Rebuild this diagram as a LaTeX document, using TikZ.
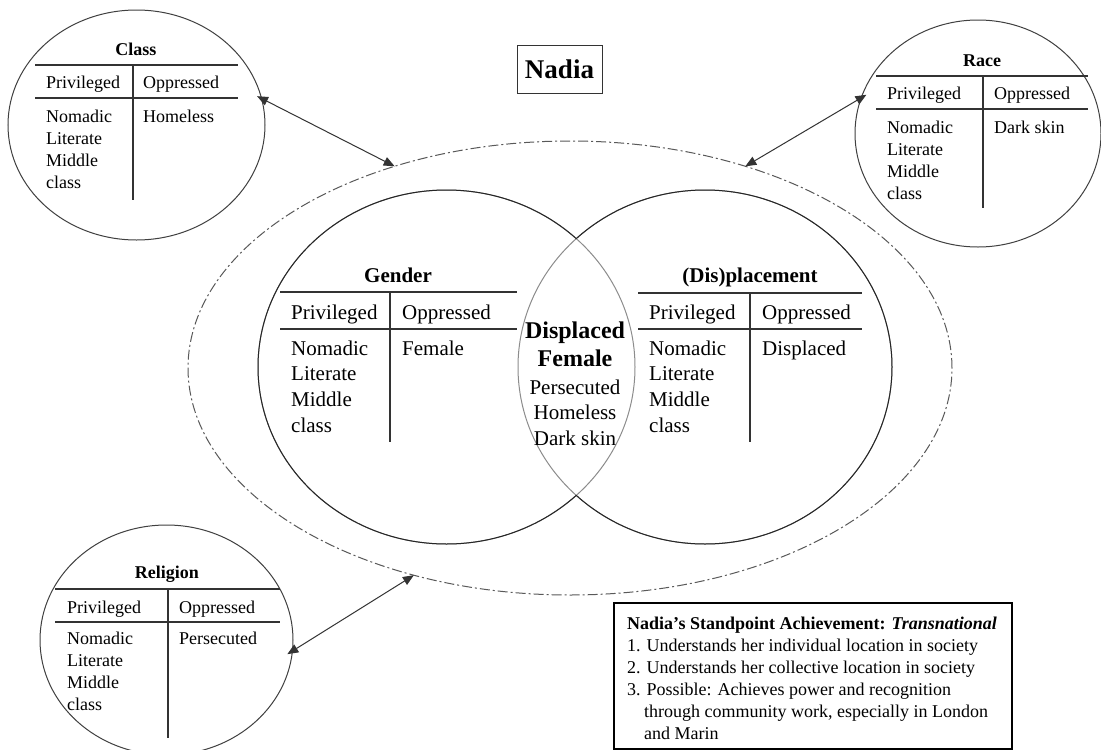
\documentclass[tikz,border=0pt]{standalone}
\usepackage{fontspec}
\setmainfont{Liberation Serif}
\usetikzlibrary{shapes.geometric,arrows.meta}
\tikzset{
  circ/.style={draw=black!75, line width=1pt, ellipse, inner sep=0pt, outer sep=0pt},
  tline/.style={draw=black!80, line width=1.6pt},
  sm/.style={font=\fontsize{18}{21}\selectfont, anchor=base west, inner sep=0pt},
  smt/.style={font=\fontsize{18}{21}\selectfont\bfseries, anchor=base, inner sep=0pt},
  md/.style={font=\fontsize{21}{25}\selectfont, anchor=base west, inner sep=0pt},
  mdt/.style={font=\fontsize{21}{25}\selectfont\bfseries, anchor=base, inner sep=0pt},
  lensb/.style={font=\fontsize{24}{28}\selectfont\bfseries, anchor=base, inner sep=0pt},
  lensr/.style={font=\fontsize{21}{25}\selectfont, anchor=base, inner sep=0pt},
  venn/.style={draw=black!85, line width=1pt},
  lensarc/.style={draw=black!45, line width=1pt},
  arr/.style={draw=black!80, line width=1pt, {Triangle[length=11pt,width=9pt]}-{Triangle[length=11pt,width=9pt]}},
}
\begin{document}
\begin{tikzpicture}[x=1pt,y=-1pt]
\useasboundingbox (0,0) rectangle (1101,750);
\fill[white] (0,0) rectangle (1101,750);

% outer dash-dot ellipse
\node[ellipse, draw=black!65, line width=1pt, dash pattern=on 10pt off 3pt on 2pt off 3pt,
      minimum width=764pt, minimum height=454pt, inner sep=0pt, outer sep=0pt] (outer) at (570,368) {};

% small circles
\node[circ, minimum width=257pt, minimum height=230pt] (classC) at (136.5,125) {};
\node[circ, minimum width=246pt, minimum height=227pt] (raceC) at (978,133.5) {};
\node[circ, minimum width=253pt, minimum height=230pt] (relC) at (166.5,640) {};

% Venn circles: lens arcs lighter
\draw[lensarc] (446.5,367) ellipse [x radius=188.5, y radius=177];
\draw[lensarc] (705,367) ellipse [x radius=187, y radius=177];
\begin{scope}[even odd rule]
  \clip (-10,-10) rectangle (1111,760) (705,367) ellipse [x radius=187, y radius=177];
  \draw[venn] (446.5,367) ellipse [x radius=188.5, y radius=177];
\end{scope}
\begin{scope}[even odd rule]
  \clip (-10,-10) rectangle (1111,760) (446.5,367) ellipse [x radius=188.5, y radius=177];
  \draw[venn] (705,367) ellipse [x radius=187, y radius=177];
\end{scope}

% arrows
\draw[arr, shorten <=-5pt] (classC.12) -- (outer.131);
\draw[arr, shorten <=-6pt] (raceC.163) -- (outer.49);
\draw[arr, shorten <=-6pt] (relC.-5) -- (outer.-127);

% Nadia
\node[draw=black!80, line width=1pt, minimum width=85pt, minimum height=48pt, inner sep=0pt,
      font=\fontsize{27}{30}\selectfont\bfseries] (nadia) at (559.5,69) {Nadia};

% Class table
\node[smt] (clT) at (136,55) {Class};
\draw[tline] (35,65) -- (238,65);
\draw[tline] (35,98) -- (238,98);
\draw[tline] (133,65) -- (133,200);
\node[sm] (clH1) at (46,88) {Privileged};
\node[sm] (clH2) at (143,88) {Oppressed};
\foreach \t [count=\i] in {Nomadic,Literate,Middle,class}
  \node[sm] (clP\i) at (46,{122+22*(\i-1)}) {\t};
\node[sm] (clO1) at (143,122) {Homeless};

% Race table
\node[smt] (raT) at (982,66) {Race};
\draw[tline] (876,76) -- (1088,76);
\draw[tline] (876,109) -- (1088,109);
\draw[tline] (983,76) -- (983,208);
\node[sm] (raH1) at (887,99) {Privileged};
\node[sm] (raH2) at (994,99) {Oppressed};
\foreach \t [count=\i] in {Nomadic,Literate,Middle,class}
  \node[sm] (raP\i) at (887,{133+22*(\i-1)}) {\t};
\node[sm] (raO1) at (994,133) {Dark skin};

% Religion table
\node[smt] (reT) at (167,578) {Religion};
\draw[tline] (55,589) -- (280,589);
\draw[tline] (55,622) -- (280,622);
\draw[tline] (168,589) -- (168,738);
\node[sm] (reH1) at (67,613) {Privileged};
\node[sm] (reH2) at (179,613) {Oppressed};
\foreach \t [count=\i] in {Nomadic,Literate,Middle,class}
  \node[sm] (reP\i) at (67,{644+22*(\i-1)}) {\t};
\node[sm] (reO1) at (179,644) {Persecuted};

% Gender table
\node[mdt] (geT) at (398,282) {Gender};
\draw[tline] (280,292) -- (517,292);
\draw[tline] (280,329) -- (517,329);
\draw[tline] (390,292) -- (390,442);
\node[md] (geH1) at (291,319) {Privileged};
\node[md] (geH2) at (402,319) {Oppressed};
\foreach \t [count=\i] in {Nomadic,Literate,Middle,class}
  \node[md] (geP\i) at (291,{355+25.7*(\i-1)}) {\t};
\node[md] (geO1) at (402,355) {Female};

% (Dis)placement table
\node[mdt] (diT) at (750,282) {(Dis)placement};
\draw[tline] (638,293) -- (862,293);
\draw[tline] (638,329) -- (862,329);
\draw[tline] (750,293) -- (750,442);
\node[md] (diH1) at (649,319) {Privileged};
\node[md] (diH2) at (762,319) {Oppressed};
\foreach \t [count=\i] in {Nomadic,Literate,Middle,class}
  \node[md] (diP\i) at (649,{355+25.7*(\i-1)}) {\t};
\node[md] (diO1) at (762,355) {Displaced};

% lens text
\node[lensb] (ln1) at (575,338) {Displaced};
\node[lensb] (ln2) at (575,366) {Female};
\node[lensr] (ln3) at (575,394) {Persecuted};
\node[lensr] (ln4) at (575,419.5) {Homeless};
\node[lensr] (ln5) at (575,445) {Dark skin};

% Standpoint box
\node[draw=black, line width=1.5pt, minimum width=398pt, minimum height=146pt, inner sep=0pt] (sp) at (813,676) {};
\node[sm] (sp0) at (627,629) {\textbf{Nadia’s Standpoint Achievement: \textit{Transnational}}};
\node[sm] (sp1) at (627,651) {1. Understands her individual location in society};
\node[sm] (sp2) at (627,673) {2. Understands her collective location in society};
\node[sm] (sp3) at (627,695) {3. Possible: Achieves power and recognition};
\node[sm] (sp4) at (644,717) {through community work, especially in London};
\node[sm] (sp5) at (644,739) {and Marin};
\end{tikzpicture}
\end{document}
